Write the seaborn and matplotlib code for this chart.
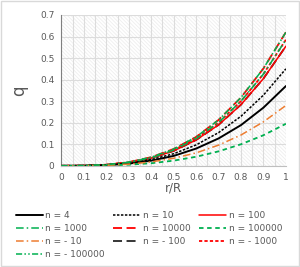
import matplotlib
matplotlib.use("Agg")
import matplotlib.pyplot as plt
import numpy as np
import pandas as pd
import seaborn as sns
from matplotlib.patches import Rectangle
from matplotlib.ticker import MultipleLocator, FuncFormatter

# r/R sample points
r_over_R = [0.0, 0.1, 0.2, 0.3, 0.4, 0.5, 0.6, 0.7, 0.8, 0.9, 1.0]

# q values, one list per exponent n
q_n4 = [0, 0.0004, 0.003, 0.010, 0.024, 0.046, 0.080, 0.127, 0.189, 0.270, 0.370]
q_n10 = [0, 0.0005, 0.0036, 0.012, 0.029, 0.056, 0.097, 0.154, 0.230, 0.328, 0.450]
q_n100 = [0, 0.0006, 0.0044, 0.015, 0.036, 0.069, 0.120, 0.190, 0.284, 0.405, 0.555]
q_n1000 = [0, 0.0006, 0.0047, 0.016, 0.037, 0.073, 0.126, 0.201, 0.300, 0.426, 0.585]
q_n10000 = [0, 0.0006, 0.0049, 0.017, 0.040, 0.078, 0.134, 0.213, 0.317, 0.452, 0.620]
q_n100000 = [0, 0.0002, 0.0016, 0.0053, 0.012, 0.024, 0.042, 0.067, 0.100, 0.142, 0.195]
q_nm10 = [0, 0.0003, 0.0022, 0.0076, 0.018, 0.035, 0.060, 0.096, 0.143, 0.204, 0.280]
q_nm100 = [0, 0.0006, 0.0044, 0.015, 0.036, 0.069, 0.120, 0.190, 0.284, 0.405, 0.555]
q_nm1000 = [0, 0.0006, 0.0047, 0.016, 0.037, 0.073, 0.126, 0.201, 0.300, 0.426, 0.585]
q_nm100000 = [0, 0.0006, 0.0049, 0.017, 0.040, 0.078, 0.134, 0.213, 0.317, 0.452, 0.620]

BLACK = "#000000"
RED = "#FF0000"
GREEN = "#00B050"
ORANGE = "#ED7D31"
TEXT = "#595959"
GRID = "#DCDCDC"

series = [
    ("n = 4", q_n4, BLACK, "-", 1.4, 5),
    ("n = 10", q_n10, BLACK, (0, (1.6, 1.0)), 1.1, 5),
    ("n = 100", q_n100, RED, "-", 1.1, 4),
    ("n = 1000", q_n1000, GREEN, (0, (5, 2, 1, 2)), 1.1, 5),
    ("n = 10000", q_n10000, RED, (0, (5, 2.5)), 1.3, 4),
    ("n = 100000", q_n100000, GREEN, (0, (2.5, 2)), 1.3, 5),
    ("n = - 10", q_nm10, ORANGE, (0, (5, 2, 1, 2)), 1.1, 5),
    ("n = - 100", q_nm100, "#262626", (0, (5, 2.5)), 1.3, 3),
    ("n = - 1000", q_nm1000, RED, (0, (1.8, 1.2)), 1.3, 4),
    ("n = - 100000", q_nm100000, GREEN, (0, (4, 1.5, 1, 1.5, 1, 1.5)), 1.1, 6),
]

sns.set_theme(style="white", font="DejaVu Sans")
plt.rcParams["hatch.linewidth"] = 0.6
fig = plt.figure(figsize=(3.0, 2.67), dpi=100)
ax = fig.add_axes([0.205, 0.379, 0.748, 0.565])

# hatched plot-area background
ax.add_patch(Rectangle((0, 0), 1, 1, transform=ax.transAxes, facecolor="white",
                       edgecolor="#EEEEEE", hatch="\\" * 9, linewidth=0, zorder=0))

handles = {}
for label, vals, color, ls, lw, z in series:
    sns.lineplot(x=r_over_R, y=vals, ax=ax, color=color, linestyle=ls,
                 linewidth=lw, zorder=z, legend=False)
    handles[label] = ax.lines[-1]

ax.set_xlim(0, 1)
ax.set_ylim(0, 0.7)
ax.xaxis.set_major_locator(MultipleLocator(0.1))
ax.xaxis.set_minor_locator(MultipleLocator(0.05))
ax.yaxis.set_major_locator(MultipleLocator(0.1))
ax.yaxis.set_minor_locator(MultipleLocator(0.02))
ax.xaxis.set_major_formatter(FuncFormatter(lambda v, p: f"{v:g}"))
ax.yaxis.set_major_formatter(FuncFormatter(lambda v, p: f"{v:g}"))
ax.grid(which="major", color=GRID, linewidth=0.8, zorder=1)
ax.grid(which="minor", axis="x", color=GRID, linewidth=0.8, zorder=1)
ax.set_axisbelow(True)

for side in ["top", "right"]:
    ax.spines[side].set_visible(False)
ax.spines["left"].set_color("#7F7F7F")
ax.spines["bottom"].set_color("#BFBFBF")
ax.spines["left"].set_linewidth(0.8)
ax.spines["bottom"].set_linewidth(0.8)
ax.tick_params(axis="both", which="both", direction="out", colors="#7F7F7F",
               labelcolor=TEXT, labelsize=6.5, length=3, width=0.6, pad=2)
ax.tick_params(axis="both", which="minor", length=2)

ax.set_xlabel("r/R", fontsize=8.5, color=TEXT, labelpad=0)
ax.set_ylabel("q", fontsize=12, color=TEXT, labelpad=9)

order = ["n = 4", "n = 1000", "n = - 10", "n = - 100000",
         "n = 10", "n = 10000", "n = - 100",
         "n = 100", "n = 100000", "n = - 1000"]
leg = fig.legend([handles[k] for k in order], order, ncol=3, loc="lower left",
                 bbox_to_anchor=(0.025, 0.0), frameon=False, fontsize=6.5,
                 handlelength=3.0, handletextpad=0.3, columnspacing=0.9,
                 labelspacing=0.45, labelcolor=TEXT)

# chart area border
fig.patches.append(Rectangle((0.003, 0.003), 0.994, 0.994, transform=fig.transFigure,
                             fill=False, edgecolor="#D9D9D9", linewidth=1.0))

fig.savefig("out.png", dpi=100, facecolor="white")
